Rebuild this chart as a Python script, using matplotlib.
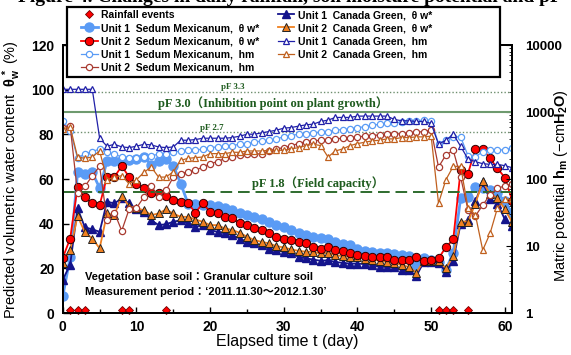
import numpy as np
import matplotlib.pyplot as plt
from matplotlib.patches import Rectangle
from matplotlib.ticker import MultipleLocator, FixedLocator, LogLocator, NullFormatter

plt.rcParams['font.family'] = ['Liberation Sans', 'Noto Sans CJK JP', 'DejaVu Sans']
plt.rcParams['font.weight'] = 'bold'
plt.rcParams['mathtext.fontset'] = 'custom'
plt.rcParams['mathtext.rm'] = 'Liberation Sans:bold'
plt.rcParams['mathtext.it'] = 'Liberation Sans:bold'
plt.rcParams['mathtext.bf'] = 'Liberation Sans:bold'

# elapsed days and rainfall events
days = np.arange(0, 62)
rain_days = [1, 2, 3, 8, 9, 14, 51, 52, 53, 55]

# predicted volumetric water content (%)
sm1_theta = [7.7, 25, 63, 62.5, 63, 56, 68, 68, 68.5, 68.5,
             69, 70, 66.5, 68, 69, 66, 58, 49, 49, 48.5,
             48.5, 48, 47, 46, 45, 44, 43, 42, 41, 39.5,
             38.5, 37, 36, 35, 34.2, 33.5, 33, 32, 31, 30.5,
             28.5, 28, 27.5, 27, 27, 26.5, 26, 25.5, 21.5, 24.5,
             24, 23, 19.5, 27, 51.4, 52, 56.5, 56, 55, 53.6,
             50, 44.7]
sm2_theta = [24.8, 33.4, 56.6, 51.8, 49.1, 48.4, 61, 61, 65.8, 61,
             58, 55.8, 53.9, 53.9, 52.4, 50.6, 49.9, 49.1, 45, 49.1,
             45.4, 44.6, 43.1, 42.4, 40.2, 39.4, 37.9, 37.2, 35.7, 34.2,
             33.4, 32.7, 31.9, 31.2, 29.7, 28.9, 29.4, 28.2, 27.8, 26.7,
             25.9, 25.7, 25.2, 24.9, 24.9, 23.7, 23.7, 24, 25, 23.4,
             23.7, 24.5, 29.5, 33, 64, 62.5, 73.4, 73.4, 69.3, 64.8,
             60.7, 50.3]
cg1_theta = [15, 21.7, 46.9, 38.4, 37.5, 36.4, 49.9, 49.1, 51.4, 49.1,
             46.4, 45.4, 41.6, 39.4, 39.8, 40.9, 41.6, 40.2, 38.7, 39.4,
             37.2, 36.4, 35.7, 34.9, 33.4, 31.9, 31.2, 30.4, 28.9, 28.2,
             27.4, 26.7, 25.2, 24.5, 24, 23.4, 23.7, 22.9, 22.5, 22.2,
             22.2, 21.9, 21.5, 20.7, 20.7, 20.7, 19.2, 19.2, 16.6, 23,
             23, 22.5, 18.5, 23.5, 40, 41.5, 50, 58.5, 51, 49,
             42, 39]
cg2_theta = [22.3, 28.2, 43.4, 36.2, 33.4, 29, 44.6, 43.9, 52.4, 47.9,
             46.9, 46.1, 43.9, 44.6, 46.4, 44.6, 43.1, 43.1, 41.9, 40.9,
             39.4, 39.4, 37.9, 37.2, 36, 34.2, 32.7, 31.9, 31.2, 30,
             29.4, 28.5, 27.9, 27.5, 27.4, 26.7, 27, 25.9, 25.5, 25.2,
             24.9, 24.4, 24, 23.4, 22.9, 22.5, 21.5, 20.7, 18.1, 23.5,
             23.5, 23.5, 20, 25.5, 41, 41, 49, 59, 53.2, 51.6,
             46.5, 40.6]

# matric potential as pF = log10(hm [cmH2O])
sm1_pf = [2.87, 2.72, 2.31, 2.38, 2.41, 2.45, 2.40, 2.37, 2.33, 2.32,
          2.32, 2.33, 2.35, 2.37, 2.38, 2.40, 2.42, 2.43, 2.43, 2.45,
          2.47, 2.48, 2.49, 2.50, 2.52, 2.53, 2.55, 2.57, 2.58, 2.60,
          2.63, 2.65, 2.67, 2.68, 2.69, 2.70, 2.71, 2.73, 2.74, 2.75,
          2.77, 2.78, 2.80, 2.82, 2.83, 2.84, 2.85, 2.87, 2.87, 2.88,
          2.87, 2.53, 2.58, 2.63, 2.63, 2.35, 2.33, 2.41, 2.43, 2.43,
          2.44, 2.46]
sm2_pf = [2.77, 2.79, 1.79, 1.89, 2.05, 2.19, 1.39, 1.50, 1.23, 1.55,
          1.57, 1.73, 1.90, 1.73, 1.83, 2.03, 2.08, 2.11, 2.13, 2.18,
          2.23, 2.26, 2.31, 2.33, 2.36, 2.37, 2.37, 2.38, 2.42, 2.45,
          2.47, 2.50, 2.53, 2.56, 2.57, 2.58, 2.59, 2.60, 2.61, 2.62,
          2.63, 2.64, 2.65, 2.66, 2.67, 2.67, 2.68, 2.69, 2.70, 2.71,
          2.73, 2.18, 2.36, 2.43, 2.03, 1.54, 1.45, 1.61, 1.77, 1.86,
          1.90, 1.93]
cg1_pf = [3.34, 3.34, 3.34, 3.34, 3.34, 2.61, 2.49, 2.52, 2.48, 2.47,
          2.49, 2.52, 2.51, 2.48, 2.47, 2.48, 2.58, 2.58, 2.59, 2.61,
          2.61, 2.61, 2.61, 2.62, 2.64, 2.67, 2.67, 2.69, 2.71, 2.73,
          2.76, 2.77, 2.79, 2.81, 2.82, 2.86, 2.88, 2.92, 2.92, 2.92,
          2.94, 2.94, 2.94, 2.94, 2.94, 2.89, 2.87, 2.87, 2.86, 2.86,
          2.83, 2.52, 2.58, 2.67, 2.49, 2.30, 2.26, 2.23, 2.22, 2.22,
          2.20, 2.17]
cg2_pf = [2.75, 2.78, 2.33, 2.31, 2.33, 2.42, 1.99, 2.03, 2.05, 1.93,
          1.99, 2.10, 2.18, 2.03, 2.03, 2.11, 2.28, 2.31, 2.32, 2.33,
          2.38, 2.38, 2.38, 2.40, 2.40, 2.42, 2.42, 2.42, 2.43, 2.43,
          2.43, 2.45, 2.47, 2.50, 2.52, 2.50, 2.33, 2.42, 2.45, 2.50,
          2.53, 2.55, 2.57, 2.58, 2.60, 2.60, 2.62, 2.62, 2.63, 2.63,
          2.64, 1.64, 1.99, 2.19, 2.19, 1.57, 1.47, 0.94, 1.19, 1.57,
          1.70, 1.70]

# reference pF levels
pf_levels = [3.3, 3.0, 2.7, 1.8]

labels = ['Rainfall events',
          'Unit 1  Sedum Mexicanum,  θ w*',
          'Unit 2  Sedum Mexicanum,  θ w*',
          'Unit 1  Sedum Mexicanum,  hm',
          'Unit 2  Sedum Mexicanum,  hm',
          'Unit 1  Canada Green,  θ w*',
          'Unit 2  Canada Green,  θ w*',
          'Unit 1  Canada Green,  hm',
          'Unit 2  Canada Green,  hm']

c_blue = '#5a9bf5'
c_red = '#ff0000'
c_navy = '#14148c'
c_orange = '#f08020'
c_brown = '#a83a30'
c_sienna = '#c0601e'
c_green = '#1f5c1f'

fig = plt.figure(figsize=(5.71, 3.55), dpi=100)
ax = fig.add_axes([0.110, 0.118, 0.787, 0.755])
ax2 = ax.twinx()

h1, = ax.plot(days, sm1_theta, '-o', color=c_blue, lw=2, ms=6.5, mec=c_blue, zorder=3)
h5, = ax.plot(days, cg1_theta, '-^', color=c_navy, lw=1.3, ms=5.5, mec=c_navy, zorder=4)
h6, = ax.plot(days, cg2_theta, '-^', color=c_orange, mfc=c_orange, mec='#222222',
              mew=0.7, lw=1.3, ms=5.5, zorder=5)
h2, = ax.plot(days, sm2_theta, '-o', color=c_red, mfc=c_red, mec='#300000',
              mew=0.7, lw=1.3, ms=6, zorder=6)
h0, = ax.plot(rain_days, np.full(len(rain_days), 1.5), 'D', color=c_red, mec='#700000',
              mew=0.6, ms=4.5, ls='none', clip_on=False, zorder=7)

# pF reference lines (right axis, hm = 10**pF)
ax2.axhline(10 ** pf_levels[0], color='#6f8f6f', ls=(0, (1, 1.5)), lw=1)
ax2.axhline(10 ** pf_levels[1], color='#6e9a6e', ls='-', lw=1.5)
ax2.axhline(10 ** pf_levels[2], color='#6f8f6f', ls=(0, (1, 1.5)), lw=1)
ax2.axhline(10 ** pf_levels[3], color='#2e6b2e', ls=(0, (6, 3)), lw=1.4)

h3, = ax2.plot(days, 10 ** np.array(sm1_pf), '-o', color=c_blue, mfc='white',
               lw=0.9, ms=4.5, mew=0.9)
h4, = ax2.plot(days, 10 ** np.array(sm2_pf), '-o', color=c_brown, mfc='white',
               lw=0.9, ms=4.5, mew=0.9)
h7, = ax2.plot(days, 10 ** np.array(cg1_pf), '-^', color='#2020a8', mfc='white',
               lw=0.9, ms=4.5, mew=0.9)
h8, = ax2.plot(days, 10 ** np.array(cg2_pf), '-^', color=c_sienna, mfc='white',
               lw=0.9, ms=4.5, mew=0.9)

ax.set_xlim(0, 61)
ax.set_ylim(0, 120)
ax2.set_yscale('log')
ax2.set_ylim(1, 10000)

ax.xaxis.set_major_locator(MultipleLocator(10))
ax.xaxis.set_minor_locator(MultipleLocator(5))
ax.yaxis.set_major_locator(MultipleLocator(20))
ax.tick_params(axis='both', which='both', direction='in', labelsize=10, width=1)
ax.tick_params(axis='x', which='major', length=4, pad=5)
ax.tick_params(axis='x', which='minor', length=3)
ax.tick_params(axis='y', length=4, pad=6)

ax2.yaxis.set_major_locator(FixedLocator([1, 10, 100, 1000, 10000]))
ax2.set_yticklabels(['1', '10', '100', '1000', '10000'])
ax2.yaxis.set_minor_locator(LogLocator(base=10, subs=np.arange(2, 10)))
ax2.yaxis.set_minor_formatter(NullFormatter())
ax2.tick_params(axis='y', which='both', direction='in', labelsize=9.5, pad=9)
ax2.tick_params(axis='y', which='major', length=4)
ax2.tick_params(axis='y', which='minor', length=2.5)

for a in (ax, ax2):
    for s in a.spines.values():
        s.set_linewidth(1.4)

ax.set_xlabel('Elapsed time t (day)', fontsize=11.5, labelpad=0)
ax.set_ylabel(r'Predicted volumetric water content  $\theta_w^{\,*}$ (%)', fontsize=10.5)
ax.yaxis.set_label_coords(-0.088, 0.5)
ax2.set_ylabel(r'Matric potential $h_m$ (−cm$H_2O$)', fontsize=10.5)
ax2.yaxis.set_label_coords(1.089, 0.474)

serif = ['Liberation Serif', 'Noto Sans CJK JP']
ax.text(23.1, 101.3, 'pF 3.3', family=serif, color=c_green, fontsize=6.5,
        fontweight='bold', ha='center', va='center')
ax.text(28.5, 94.2, 'pF 3.0（Inhibition point on plant growth）', family=serif,
        color=c_green, fontsize=9, fontweight='bold', ha='center', va='center')
ax.text(20.2, 82.8, 'pF 2.7', family=serif, color=c_green, fontsize=6.5,
        fontweight='bold', ha='center', va='center')
ax.text(34.6, 58.2, 'pF 1.8（Field capacity）', family=serif, color=c_green,
        fontsize=9, fontweight='bold', ha='center', va='center')

ax.text(3.0, 16, 'Vegetation base soil：Granular culture soil', fontsize=8,
        fontweight='bold', va='center', zorder=8)
ax.text(3.0, 9.4, 'Measurement period：‘2011.11.30～2012.1.30’', fontsize=8,
        fontweight='bold', va='center', zorder=8)

# legend box
box = Rectangle((67 / 571, 1 - 77 / 355), 433 / 571, 70 / 355, transform=fig.transFigure,
                facecolor='white', edgecolor='black', lw=1.6, zorder=5)
fig.add_artist(box)
leg = fig.legend([h0, h1, h2, h3, h4, h5, h6, h7, h8], labels, loc='upper left',
                 bbox_to_anchor=(81 / 571, 1 - 10 / 355), ncol=2, fontsize=7.5,
                 frameon=False, handlelength=1.6, handletextpad=0.3,
                 columnspacing=1.8, labelspacing=0.3, borderpad=0, borderaxespad=0)
leg.set_zorder(6)

fig.text(18 / 571, 1 - 1.5 / 355,
         'Figure 4. Changes in daily rainfall, soil moisture potential and pF',
         family='Liberation Serif', fontsize=14, va='baseline')

fig.savefig('out.png', dpi=100)
